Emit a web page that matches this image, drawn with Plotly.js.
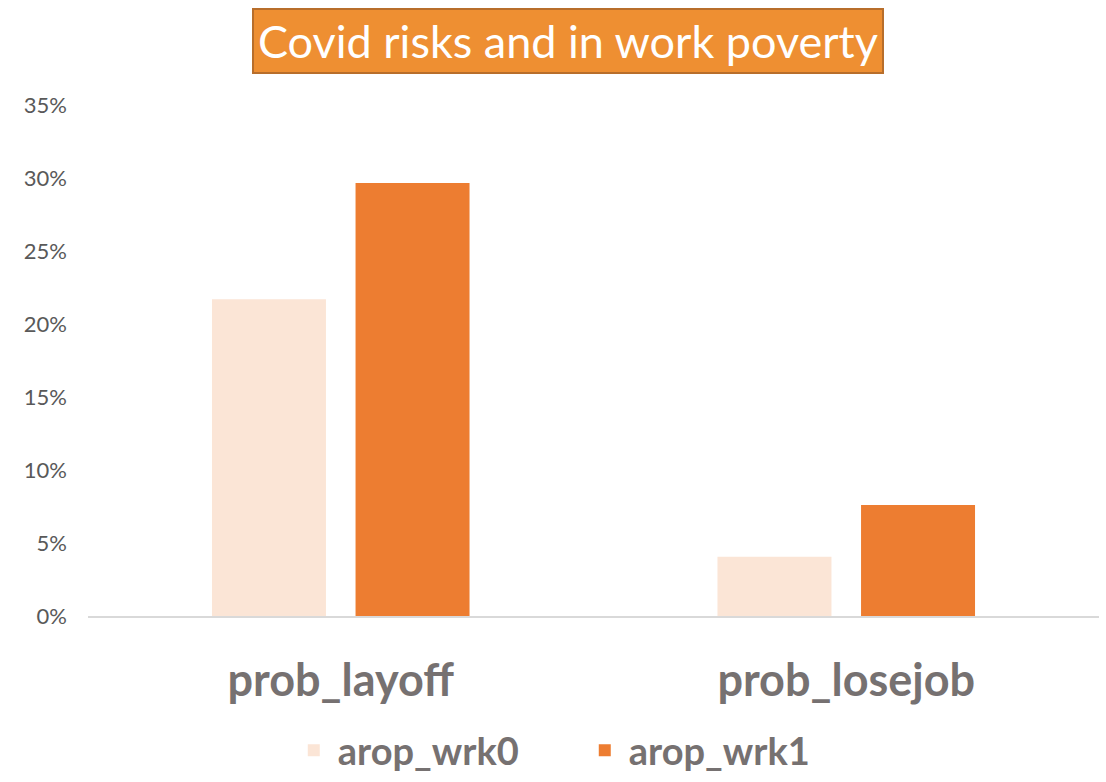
<!DOCTYPE html>
<html>
<head>
<meta charset="utf-8">
<script src="https://cdn.plot.ly/plotly-3.0.1.min.js"></script>
<style>html,body{margin:0;padding:0;background:#fff;}#chart{width:1106px;height:782px;}</style>
</head>
<body>
<div id="chart"></div>
<script>
var categories = ["prob_layoff", "prob_losejob"];
var seriesNames = ["arop_wrk0", "arop_wrk1"];
var arop_wrk0 = [0.217, 0.0405];
var arop_wrk1 = [0.2965, 0.076];
var yTickValues = [0, 0.05, 0.10, 0.15, 0.20, 0.25, 0.30, 0.35];
var yTickLabels = ["0%", "5%", "10%", "15%", "20%", "25%", "30%", "35%"];
var titleText = "Covid risks and in work poverty";

var traces = [
  {type: "bar", name: seriesNames[0], x: categories, y: arop_wrk0,
   marker: {color: "#FBE5D6", line: {width: 0}}, hoverinfo: "skip"},
  {type: "bar", name: seriesNames[1], x: categories, y: arop_wrk1,
   marker: {color: "#ED7D31", line: {width: 0}}, hoverinfo: "skip"}
];

var plotH = 782 - 105 - 166;
var layout = {
  width: 1106, height: 782,
  margin: {l: 88, r: 7, t: 105, b: 166, autoexpand: false},
  paper_bgcolor: "#ffffff", plot_bgcolor: "#ffffff",
  barmode: "group", bargap: 0.432, bargroupgap: 0.206,
  showlegend: true,
  legend: {orientation: "h", xref: "container", yref: "container",
           x: 0.262, xanchor: "left", y: 0.0, yanchor: "bottom",
           font: {family: "Lato, 'Open Sans', sans-serif", size: 38, color: "#767171", weight: "bold"},
           traceorder: "normal", itemwidth: 38, entrywidth: 238, entrywidthmode: "pixels"},
  xaxis: {type: "category", showgrid: false, zeroline: false, showline: true,
          linecolor: "#D9D9D9", linewidth: 2, ticks: "", ticklabelstandoff: 24,
          automargin: false,
          tickfont: {family: "Lato, 'Open Sans', sans-serif", size: 45, color: "#767171", weight: "bold"}},
  yaxis: {range: [0, 0.35], tickvals: yTickValues, ticktext: yTickLabels,
          showgrid: false, zeroline: false, showline: false, ticks: "",
          ticklabelstandoff: 20, automargin: false,
          tickfont: {family: "Lato, 'Open Sans', sans-serif", size: 22, color: "#595959"}},
  annotations: [{
    text: titleText, xref: "paper", yref: "paper",
    x: (568 - 88) / 1011, y: (616 - 41.5) / plotH,
    xanchor: "center", yanchor: "middle", showarrow: false,
    font: {family: "Lato, 'Open Sans', sans-serif", size: 45, color: "#ffffff"},
    bgcolor: "#EE8F32", bordercolor: "#B86E2B", borderwidth: 2, borderpad: 4
  }]
};

Plotly.newPlot("chart", traces, layout, {displayModeBar: false, staticPlot: true});
</script>
</body>
</html>
